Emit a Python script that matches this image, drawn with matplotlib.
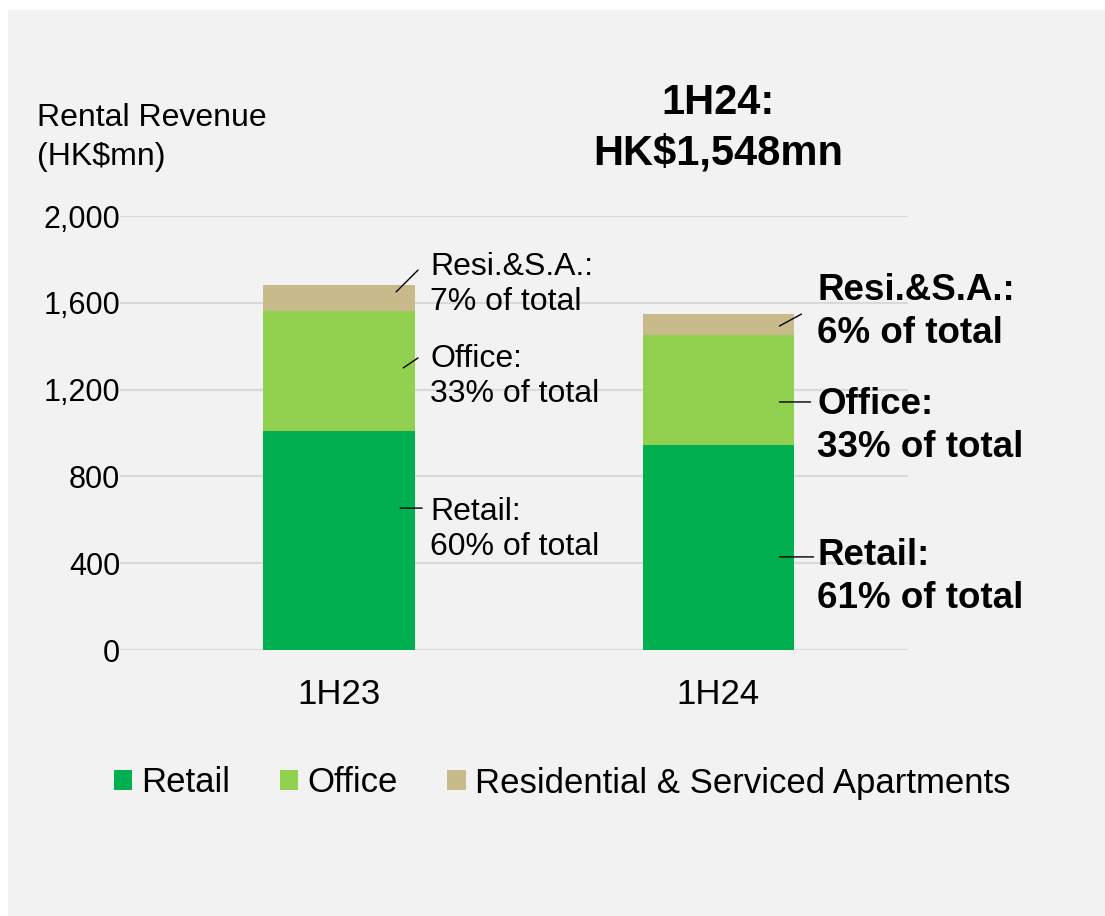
import matplotlib.pyplot as plt
import matplotlib.patches as mpatches

plt.rcParams["font.family"] = ["Liberation Sans", "DejaVu Sans"]

# ─── Data ───────────────────────────────────────────────────────────────
periods = ["1H23", "1H24"]
retail = [1008, 944]
office = [555, 508]
resi = [119, 96]
segments = ["Retail", "Office", "Residential & Serviced Apartments"]
colors = ["#00B050", "#92D050", "#C9BA8C"]
yticks = [0, 400, 800, 1200, 1600, 2000]

# ─── Figure ─────────────────────────────────────────────────────────────
W, H = 1105, 916
fig = plt.figure(figsize=(W / 100, H / 100), dpi=100, facecolor="white")
fig.patches.append(mpatches.Rectangle((8 / W, 0), 1, 1 - 10 / H, transform=fig.transFigure,
                                      facecolor="#F2F2F2", edgecolor="none", zorder=-10))

ax = fig.add_axes([120 / W, 1 - 650 / H, 788 / W, 434 / H])
ax.set_facecolor("none")

x = list(range(len(periods)))
bw = 0.40
b1 = ax.bar(x, retail, bw, color=colors[0], label=segments[0], zorder=2)
b2 = ax.bar(x, office, bw, bottom=retail, color=colors[1], label=segments[1], zorder=2)
bottom3 = [r + o for r, o in zip(retail, office)]
b3 = ax.bar(x, resi, bw, bottom=bottom3, color=colors[2], label=segments[2], zorder=2)

ax.set_ylim(0, 2000)
ax.set_xlim(-0.578, 1.50)
ax.set_yticks(yticks)
ax.set_yticklabels([f"{v:,}" for v in yticks], fontsize=22)
ax.set_xticks(x)
ax.set_xticklabels(periods, fontsize=25)
ax.tick_params(axis="y", length=0, pad=0)
ax.tick_params(axis="x", length=0, pad=20)
ax.yaxis.grid(True, color="#D9D9D9", linewidth=1.5, zorder=0)
ax.set_axisbelow(True)
for s in ax.spines.values():
    s.set_visible(False)

fig.text(37 / W, 1 - 103 / H, "Rental Revenue\n(HK$mn)", fontsize=23, va="top", ha="left",
         linespacing=1.37)

# ─── Annotations ────────────────────────────────────────────────────────
line_kw = dict(arrowprops=dict(arrowstyle="-", color="black", lw=1.0, shrinkA=0, shrinkB=0))

# 1H23 (regular)
ax.annotate("", xy=(0.150, 1650), xytext=(0.208, 1751), **line_kw)
ax.annotate("", xy=(0.169, 1300), xytext=(0.208, 1346), **line_kw)
ax.annotate("", xy=(0.161, 654), xytext=(0.219, 654), **line_kw)
left_txt = dict(fontsize=23, va="center", ha="left", linespacing=1.23)
ax.text(0.240, 1684, "Resi.&S.A.:\n7% of total", **left_txt)
ax.text(0.240, 1262, "Office:\n33% of total", **left_txt)
ax.text(0.240, 556, "Retail:\n60% of total", **left_txt)

# 1H24 (bold)
ax.annotate("", xy=(1.161, 1493), xytext=(1.219, 1548), **line_kw)
ax.annotate("", xy=(1.161, 1143), xytext=(1.243, 1143), **line_kw)
ax.annotate("", xy=(1.161, 429), xytext=(1.251, 429), **line_kw)
right_txt = dict(fontsize=26.5, va="center", ha="left", linespacing=1.28, fontweight="bold",
                 clip_on=False)
ax.text(1.261, 1558, "Resi.&S.A.:\n6% of total", **right_txt)
ax.text(1.261, 1033, "Office:\n33% of total", **right_txt)
ax.text(1.261, 337, "Retail:\n61% of total", **right_txt)

total_24 = retail[1] + office[1] + resi[1]
ax.text(1.0, 2405, f"1H24:\nHK${total_24:,}mn", fontsize=30, fontweight="bold",
        ha="center", va="center", linespacing=1.36, clip_on=False)

# ─── Legend ─────────────────────────────────────────────────────────────
fig.legend(handles=[b1, b2, b3], labels=segments, loc="center", ncol=3, frameon=False,
           bbox_to_anchor=(562 / W, 1 - 783 / H), fontsize=25, handlelength=0.52,
           handleheight=0.52, handletextpad=0.26, columnspacing=1.44)

fig.savefig("out.png", dpi=100, facecolor="white")
